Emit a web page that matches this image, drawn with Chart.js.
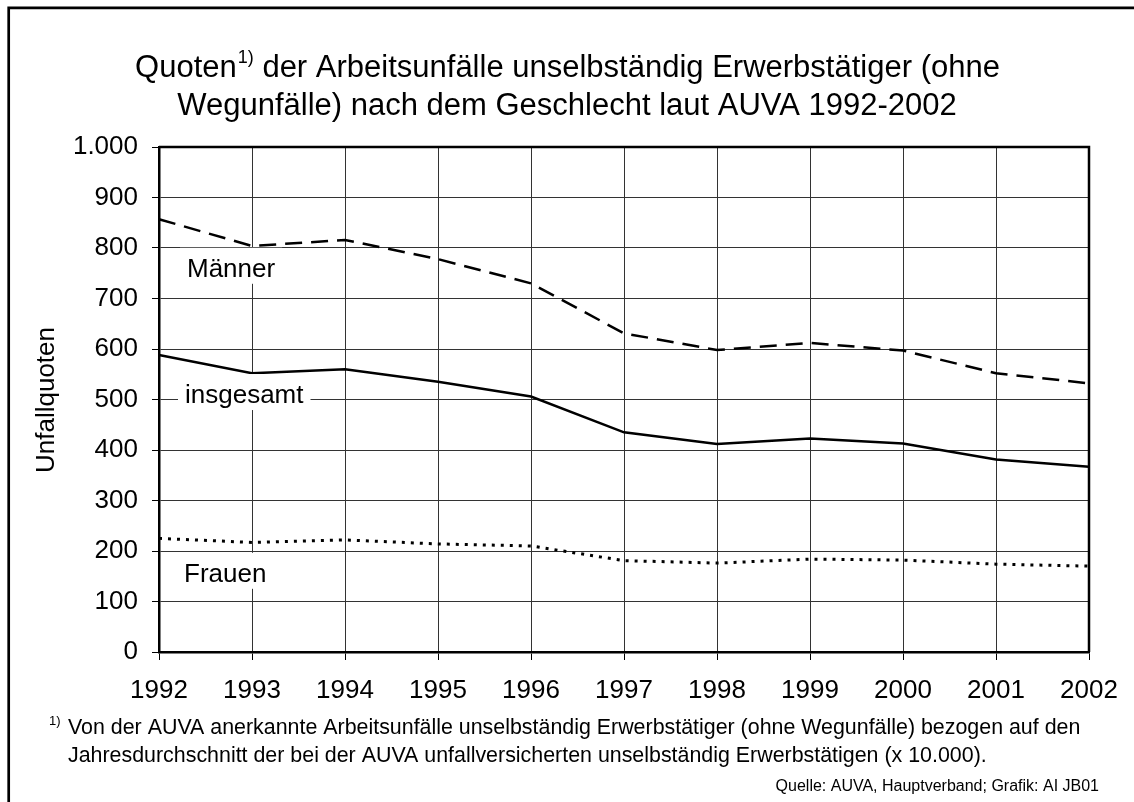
<!DOCTYPE html>
<html>
<head>
<meta charset="utf-8">
<script src="https://cdn.jsdelivr.net/npm/chart.js@4.4.0/dist/chart.umd.min.js"></script>
<style>
html, body { margin: 0; padding: 0; background: #fff; }
#wrap { width: 1134px; height: 802px; }
</style>
</head>
<body>
<div id="wrap"><canvas id="chart" width="1134" height="802"></canvas></div>
<script>
var years = ['1992', '1993', '1994', '1995', '1996', '1997', '1998', '1999', '2000', '2001', '2002'];
var maenner = [857, 804, 816, 778, 730, 631, 598, 612, 597, 552, 532];
var insgesamt = [588, 552, 560, 535, 506, 435, 412, 423, 413, 381, 367];
var frauen = [225, 217, 222, 214, 210, 181, 176, 184, 182, 174, 170];
var yTicks = [0, 100, 200, 300, 400, 500, 600, 700, 800, 900, 1000];

var FONT = '"Liberation Sans", Arial, Helvetica, sans-serif';

// thousands separator with a dot, like 1.000
function formatNumber(v) {
    return String(v).replace(/\B(?=(\d{3})+(?!\d))/g, '.');
}

// label on the plot with a white box behind it (hides the grid)
function textWithBox(ctx, text, x, y) {
    var w = ctx.measureText(text).width;
    ctx.fillStyle = '#fff';
    ctx.fillRect(x - 7, y - 29, w + 14, 36);
    ctx.fillStyle = '#000';
    ctx.fillText(text, x, y);
}

var decor = {
    id: 'decor',
    afterDraw: function (chart) {
        var ctx = chart.ctx;
        var area = chart.chartArea;
        var yScale = chart.scales.y;
        ctx.save();

        // top and right edge of the plot box
        ctx.strokeStyle = '#000';
        ctx.lineWidth = 2.5;
        ctx.beginPath();
        ctx.moveTo(area.left, area.top);
        ctx.lineTo(area.right, area.top);
        ctx.lineTo(area.right, area.bottom);
        ctx.stroke();

        // outer frame (left and top only)
        ctx.lineWidth = 2.7;
        ctx.beginPath();
        ctx.moveTo(8.7, 802);
        ctx.lineTo(8.7, 7.8);
        ctx.lineTo(1134, 7.8);
        ctx.stroke();

        // title with superscript
        ctx.fillStyle = '#000';
        ctx.textBaseline = 'alphabetic';
        ctx.textAlign = 'left';
        var big = '31px ' + FONT, sup = '18px ' + FONT;
        var p1 = 'Quoten', p2 = '1)', p3 = ' der Arbeitsunfälle unselbständig Erwerbstätiger (ohne';
        ctx.font = big;
        var w1 = ctx.measureText(p1).width, w3 = ctx.measureText(p3).width;
        ctx.font = sup;
        var w2 = ctx.measureText(p2).width;
        var x0 = 567 - (w1 + w2 + w3) / 2;
        ctx.font = big;
        ctx.fillText(p1, x0, 77);
        ctx.font = sup;
        ctx.fillText(p2, x0 + w1 + 1, 63);
        ctx.font = big;
        ctx.fillText(p3, x0 + w1 + w2 + 1, 77);
        ctx.textAlign = 'center';
        ctx.fillText('Wegunfälle) nach dem Geschlecht laut AUVA 1992-2002', 567, 115);

        // y axis title
        ctx.save();
        ctx.translate(47, 400);
        ctx.rotate(-Math.PI / 2);
        ctx.font = '26px ' + FONT;
        ctx.textBaseline = 'middle';
        ctx.fillText('Unfallquoten', 0, 0);
        ctx.restore();

        // series labels
        ctx.font = '26px ' + FONT;
        ctx.textAlign = 'left';
        ctx.textBaseline = 'alphabetic';
        textWithBox(ctx, 'Männer', area.left + 28, yScale.getPixelForValue(743));
        textWithBox(ctx, 'insgesamt', area.left + 26, yScale.getPixelForValue(493));
        textWithBox(ctx, 'Frauen', area.left + 25, yScale.getPixelForValue(139));

        // footnote
        ctx.font = '13px ' + FONT;
        ctx.fillText('1)', 49, 725);
        ctx.font = '21.4px ' + FONT;
        ctx.fillText('Von der AUVA anerkannte Arbeitsunfälle unselbständig Erwerbstätiger (ohne Wegunfälle) bezogen auf den', 68, 734);
        ctx.fillText('Jahresdurchschnitt der bei der AUVA unfallversicherten unselbständig Erwerbstätigen (x 10.000).', 68, 762);

        // source
        ctx.font = '16px ' + FONT;
        ctx.textAlign = 'right';
        ctx.fillText('Quelle: AUVA, Hauptverband; Grafik: AI JB01', 1099, 791);
        ctx.restore();
    }
};

var ctx = document.getElementById('chart').getContext('2d');
var chart = new Chart(ctx, {
    type: 'line',
    data: {
        labels: years,
        datasets: [{
            label: 'Männer',
            data: maenner,
            borderColor: '#000',
            borderWidth: 2.5,
            borderDash: [17, 9],
            pointRadius: 0,
            tension: 0,
            fill: false
        }, {
            label: 'insgesamt',
            data: insgesamt,
            borderColor: '#000',
            borderWidth: 2.5,
            pointRadius: 0,
            tension: 0,
            fill: false
        }, {
            label: 'Frauen',
            data: frauen,
            borderColor: '#000',
            borderWidth: 3,
            borderDash: [3, 6],
            pointRadius: 0,
            tension: 0,
            fill: false
        }]
    },
    options: {
        responsive: false,
        animation: false,
        devicePixelRatio: 1,
        layout: {
            padding: { left: 0, top: 147, right: 45, bottom: 0 }
        },
        plugins: {
            legend: { display: false },
            tooltip: { enabled: false }
        },
        scales: {
            x: {
                type: 'category',
                offset: false,
                grid: { color: '#333', lineWidth: 1, tickLength: 8, tickColor: '#000' },
                border: { color: '#000', width: 2.5 },
                ticks: {
                    color: '#000',
                    font: { family: FONT, size: 26 },
                    padding: 15,
                    maxRotation: 0,
                    autoSkip: false
                },
                afterFit: function (scale) {
                    scale.height = 150;
                }
            },
            y: {
                min: 0,
                max: 1000,
                grid: { color: '#333', lineWidth: 1, tickLength: 7, tickColor: '#000' },
                border: { color: '#000', width: 2.5 },
                ticks: {
                    color: '#000',
                    font: { family: FONT, size: 26 },
                    padding: 14,
                    callback: function (v) { return formatNumber(v); }
                },
                afterBuildTicks: function (scale) {
                    scale.ticks = yTicks.map(function (v) { return { value: v }; });
                },
                afterFit: function (scale) {
                    scale.width = 159;
                }
            }
        }
    },
    plugins: [decor]
});
</script>
</body>
</html>
